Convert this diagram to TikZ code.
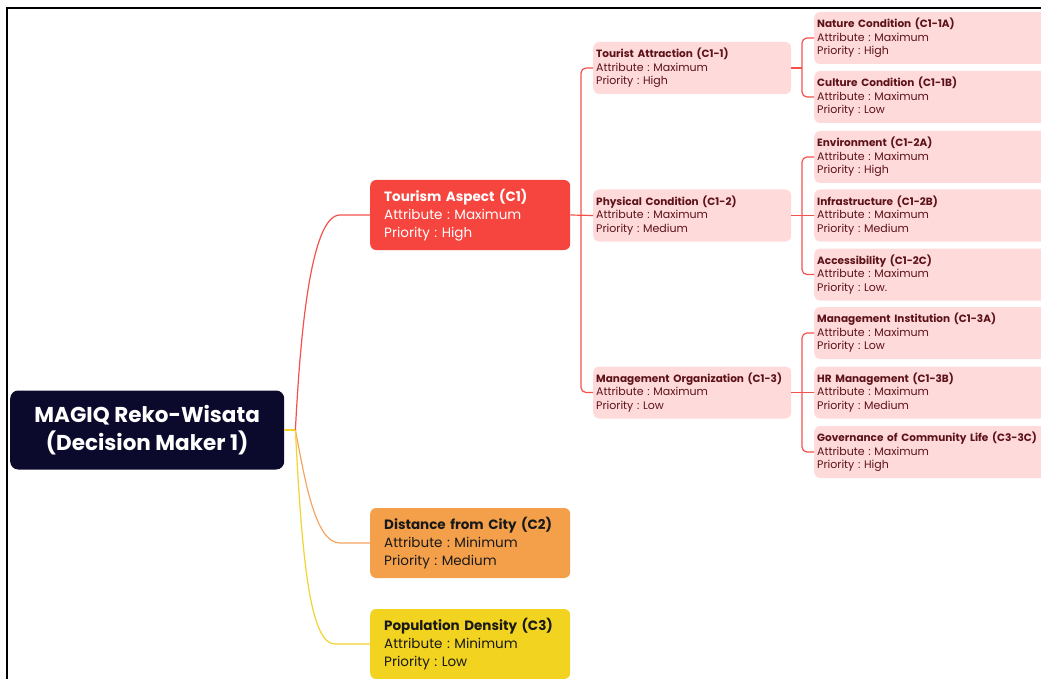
\documentclass[tikz,border=0pt]{standalone}
\usepackage{fontspec}
\setmainfont{Poppins}
\usetikzlibrary{positioning}
\definecolor{rootFill}{HTML}{0B0A2C}
\definecolor{aspectRed}{HTML}{F6443E}
\definecolor{aspectOrange}{HTML}{F4A04B}
\definecolor{aspectYellow}{HTML}{F1D320}
\definecolor{subPink}{HTML}{FFDADA}
\definecolor{subText}{HTML}{5C1218}
\definecolor{lineRed}{HTML}{F4514B}
\definecolor{lineOrange}{HTML}{F5A560}
\definecolor{lineYellow}{HTML}{F2D330}
\newcommand{\critTitleFont}{\bfseries}
\newcommand{\critText}[3]{{\critTitleFont #1}\\Attribute : #2\\Priority : #3}
\tikzset{%
	% Specifications for style of nodes:
	base/.style = {rectangle, rounded corners=6pt, inner ysep=0pt,
		align=left, anchor=west},
	rootBox/.style = {base, rounded corners=8pt, fill=rootFill, text=white,
		minimum width=274pt, minimum height=79pt, align=center,
		font=\fontsize{21.5pt}{28pt}\selectfont\bfseries},
	aspect/.style = {base, minimum width=200pt, minimum height=70pt,
		text width=172pt, inner xsep=14pt,
		font={\fontsize{13.5pt}{18pt}\selectfont\frenchspacing}},
	subAspect/.style = {base, fill=subPink, text=subText, minimum width=198pt,
		minimum height=52pt, text width=192pt, inner xsep=3pt,
		font={\fontsize{11pt}{13.5pt}\selectfont\frenchspacing
			\renewcommand{\critTitleFont}{\fontsize{10.5pt}{13.5pt}\selectfont\bfseries}}},
	leaf/.style = {subAspect, minimum width=240pt, text width=234pt},
	link/.style = {line width=1.2pt, rounded corners=5pt}
}
\begin{document}
\begin{tikzpicture}[x=1pt, y=-1pt]
	\useasboundingbox (0,0) rectangle (1041,679);
	\clip (0,0) rectangle (1041,679);
	\draw[line width=2pt] (6.5,679) -- (6.5,8) -- (1041,8);
	%% Root and main criteria
	\node[rootBox] (root) at (10,430) {MAGIQ Reko-Wisata\\(Decision Maker 1)};
	\node[aspect, fill=aspectRed, text=white] (c1) at (370,215) {\critText{Tourism Aspect (C1)}{Maximum}{High}};
	\node[aspect, fill=aspectOrange, text=black!90] (c2) at (370,543) {\critText{Distance from City (C2)}{Minimum}{Medium}};
	\node[aspect, fill=aspectYellow, text=black!90] (c3) at (370,644) {\critText{Population Density (C3)}{Minimum}{Low}};
	\draw[link, lineYellow] (root.east) -- ++(11,0) coordinate (rootHub);
	\draw[link, lineRed] (rootHub) .. controls (300,340) and (310,215) .. (345,215) -- (c1.west);
	\draw[link, lineOrange] (rootHub) .. controls (305,480) and (315,543) .. (345,543) -- (c2.west);
	\draw[link, lineYellow] (rootHub) .. controls (302,560) and (310,644) .. (340,644) -- (c3.west);
	%% Sub criteria of C1
	\node[subAspect] (c11) at (593,68) {\critText{Tourist Attraction (C1-1)}{Maximum}{High}};
	\node[subAspect] (c12) at (593,215.5) {\critText{Physical Condition (C1-2)}{Maximum}{Medium}};
	\node[subAspect] (c13) at (593,392.5) {\critText{Management Organization (C1-3)}{Maximum}{Low}};
	\draw[link, lineRed] (c11.west) -- ++(-12,0) |- (c13.west);
	\draw[link, lineRed] (c1.east) -- (c12.west);
	%% Leaves
	\node[leaf] (c11a) at (814,38) {\critText{Nature Condition (C1-1A)}{Maximum}{High}};
	\node[leaf] (c11b) at (814,97) {\critText{Culture Condition (C1-1B)}{Maximum}{Low}};
	\node[leaf] (c12a) at (814,157) {\critText{Environment (C1-2A)}{Maximum}{High}};
	\node[leaf] (c12b) at (814,215.5) {\critText{Infrastructure (C1-2B)}{Maximum}{Medium}};
	\node[leaf] (c12c) at (814,274.5) {\critText{Accessibility (C1-2C)}{Maximum}{Low.}};
	\node[leaf] (c13a) at (814,333) {\critText{Management Institution (C1-3A)}{Maximum}{Low}};
	\node[leaf] (c13b) at (814,392.5) {\critText{HR Management (C1-3B)}{Maximum}{Medium}};
	\node[leaf] (c13c) at (814,452) {\critText{Governance of Community Life (C3-3C)}{Maximum}{High}};
	\draw[link, lineRed] (c11a.west) -- ++(-12,0) |- (c11b.west);
	\draw[link, lineRed] (c11.east) -- ++(11,0);
	\draw[link, lineRed] (c12a.west) -- ++(-12,0) |- (c12c.west);
	\draw[link, lineRed] (c12.east) -- (c12b.west);
	\draw[link, lineRed] (c13a.west) -- ++(-12,0) |- (c13c.west);
	\draw[link, lineRed] (c13.east) -- (c13b.west);
\end{tikzpicture}
\end{document}
